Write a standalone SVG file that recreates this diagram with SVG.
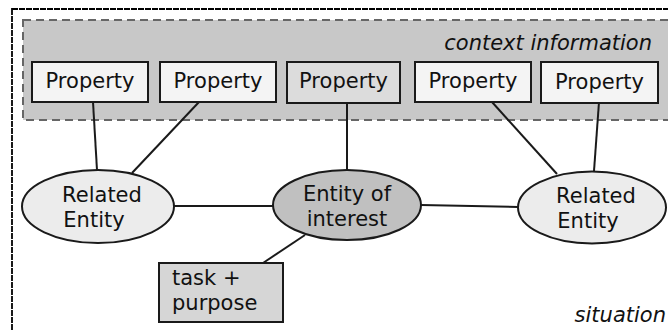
<svg xmlns="http://www.w3.org/2000/svg" width="668" height="331" viewBox="0 0 668 331">
  <style>
    .lbl { font-family: "DejaVu Sans", "Liberation Sans", sans-serif; font-size: 21px; fill: #111; }
    .it { font-style: italic; text-anchor: end; }
    .mid { text-anchor: middle; }
    .prop { fill: #f4f4f4; stroke: #1a1a1a; stroke-width: 2; }
    .edge { stroke: #1a1a1a; stroke-width: 2; fill: none; }
    .ell { stroke: #1a1a1a; stroke-width: 2; }
  </style>

  <rect width="668" height="331" fill="#ffffff"/>

  <!-- situation frame -->
  <g id="situation">
    <rect x="12" y="9" width="700" height="360" fill="none" stroke="#000" stroke-width="1.8" stroke-dasharray="6 1"/>
    <text class="lbl it" x="666" y="322">situation</text>
  </g>

  <!-- context information area -->
  <g id="context">
    <rect x="23" y="20" width="690" height="100" fill="#c8c8c8" stroke="#666" stroke-width="2" stroke-dasharray="8 5"/>
    <text class="lbl it" x="652" y="50">context information</text>
  </g>

  <!-- connectors -->
  <g id="connectors">
    <line class="edge" x1="93" y1="102" x2="97" y2="170"/>
    <line class="edge" x1="199" y1="102" x2="132" y2="173"/>
    <line class="edge" x1="347" y1="103" x2="347" y2="170"/>
    <line class="edge" x1="492" y1="102" x2="557" y2="174"/>
    <line class="edge" x1="599" y1="102" x2="594" y2="171"/>
    <line class="edge" x1="174" y1="206" x2="273" y2="206"/>
    <line class="edge" x1="421" y1="205" x2="518" y2="207"/>
    <line class="edge" x1="305" y1="235" x2="263" y2="263"/>
  </g>

  <!-- properties -->
  <g id="property1">
    <rect class="prop" x="32" y="62" width="116" height="40"/>
    <text class="lbl mid" x="90" y="88">Property</text>
  </g>
  <g id="property2">
    <rect class="prop" x="160" y="62" width="116" height="40"/>
    <text class="lbl mid" x="218" y="88">Property</text>
  </g>
  <g id="property3">
    <rect class="prop" x="287" y="62" width="113" height="41" style="fill:#dcdcdc"/>
    <text class="lbl mid" x="343.5" y="88">Property</text>
  </g>
  <g id="property4">
    <rect class="prop" x="415" y="62" width="116" height="40"/>
    <text class="lbl mid" x="473" y="88">Property</text>
  </g>
  <g id="property5">
    <rect class="prop" x="541" y="62" width="117" height="41"/>
    <text class="lbl mid" x="599.5" y="89">Property</text>
  </g>

  <!-- entities -->
  <g id="related-left">
    <ellipse class="ell" cx="98" cy="206.5" rx="76" ry="36.5" fill="#ececec"/>
    <text class="lbl mid" x="102" y="202">Related</text>
    <text class="lbl mid" x="94" y="227">Entity</text>
  </g>
  <g id="entity-of-interest">
    <ellipse class="ell" cx="347" cy="205" rx="74" ry="35" fill="#c0c0c0"/>
    <text class="lbl mid" x="347" y="201">Entity of</text>
    <text class="lbl mid" x="347" y="226">interest</text>
  </g>
  <g id="related-right">
    <ellipse class="ell" cx="592" cy="207.5" rx="74" ry="36" fill="#ececec"/>
    <text class="lbl mid" x="596" y="203">Related</text>
    <text class="lbl mid" x="588" y="228">Entity</text>
  </g>

  <!-- task box -->
  <g id="task">
    <rect x="159" y="263" width="124" height="59" fill="#d6d6d6" stroke="#1a1a1a" stroke-width="2"/>
    <text class="lbl" x="172" y="285">task +</text>
    <text class="lbl" x="172" y="310">purpose</text>
  </g>
</svg>
